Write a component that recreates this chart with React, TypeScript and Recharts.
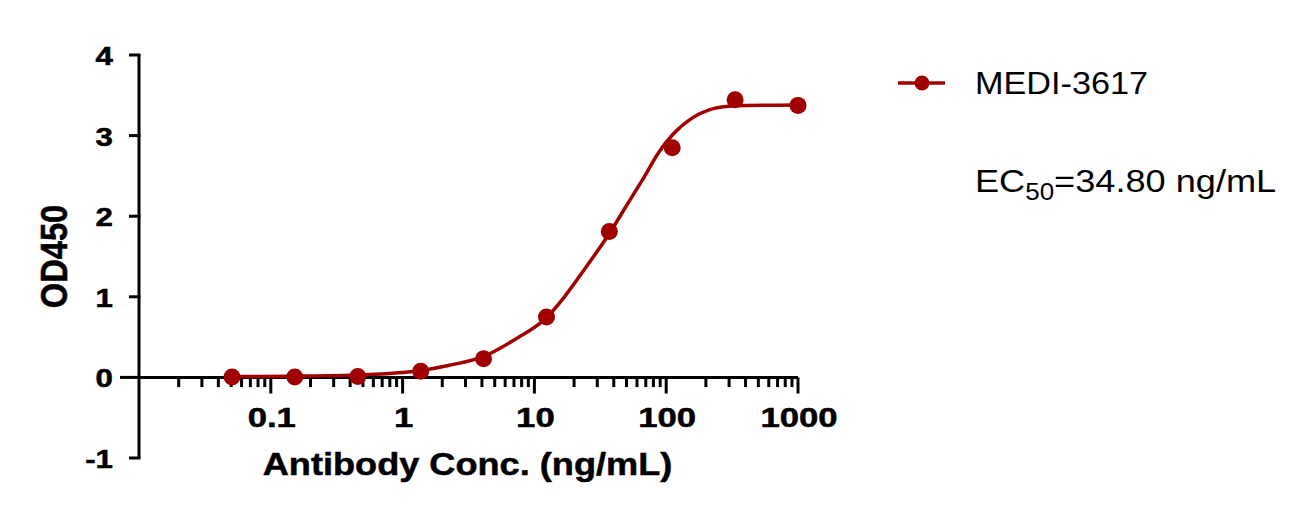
import React from 'react';
import { ComposedChart, Line, Scatter, XAxis, YAxis, ReferenceLine, Legend } from 'recharts';

// Measured points (3-fold dilution series, ng/mL) and OD450
const concentrations = [0.0508, 0.152, 0.457, 1.372, 4.115, 12.35, 37.04, 111.1, 333.3, 1000];
const od450 = [0.005, 0.005, 0.01, 0.075, 0.23, 0.75, 1.81, 2.85, 3.445, 3.375];

// Fitted curve
const fitConc = [0.0508, 0.152, 0.457, 1.0, 1.372, 2.27, 4.115, 7.26, 12.35, 16.9, 24.7, 37.04, 49.5, 66, 88.5, 111.7, 158, 212, 333, 1000];
const fitOD = [0.01, 0.015, 0.03, 0.06, 0.085, 0.15, 0.26, 0.48, 0.74, 1.0, 1.37, 1.785, 2.12, 2.45, 2.80, 3.01, 3.22, 3.32, 3.37, 3.38];

const yTicks = [-1, 0, 1, 2, 3, 4];
const majorXTicks = [0.1, 1, 10, 100, 1000];
const majorXLabels = ['0.1', '1', '10', '100', '1000'];
const minorXTicks = [
  0.02, 0.03, 0.04, 0.05, 0.06, 0.07, 0.08, 0.09,
  0.2, 0.3, 0.4, 0.5, 0.6, 0.7, 0.8, 0.9,
  2, 3, 4, 5, 6, 7, 8, 9,
  20, 30, 40, 50, 60, 70, 80, 90,
  200, 300, 400, 500, 600, 700, 800, 900,
];

const seriesName = 'MEDI-3617';
const ec50Value = '34.80';
const ec50Unit = 'ng/mL';
const xTitle = 'Antibody Conc. (ng/mL)';
const yTitle = 'OD450';

const RED = '#a10000';
const FONT = '"Liberation Sans", Arial, Helvetica, sans-serif';

const pointRows = concentrations.map((x, i) => ({ x, y: od450[i] }));
const fitRows = fitConc.map((x, i) => ({ x, y: fitOD[i] }));

const YTick = (props: any) => {
  const { x, y, payload } = props;
  const len = payload.value === 0 ? 19 : 10;
  return (
    <g>
      <line x1={x - len} x2={x + 1.5} y1={y} y2={y} stroke="#000" strokeWidth={3} />
      <g transform={`translate(${x - 26},${y + 10}) scale(1.25,1)`}>
        <text textAnchor="end" fontFamily={FONT} fontWeight={700} fontSize={25} fill="#000" stroke="#000" strokeWidth={0.5}>
          {payload.value}
        </text>
      </g>
    </g>
  );
};

const makeXLabel = (text: string) => (props: any) => {
  const vb = props.viewBox || {};
  const cx = (vb.x ?? 0) + (vb.width ?? 0) / 2;
  const top = vb.y ?? 0;
  return (
    <g transform={`translate(${cx + 1},${top + 50}) scale(1.24,1)`}>
      <text textAnchor="middle" fontFamily={FONT} fontWeight={700} fontSize={28} fill="#000" stroke="#000" strokeWidth={0.5}>
        {text}
      </text>
    </g>
  );
};

const XTitle = (props: any) => {
  const vb = props.viewBox || {};
  const cx = (vb.x ?? 0) + (vb.width ?? 0) / 2;
  return (
    <g transform={`translate(${cx - 1},${(vb.y ?? 0) + 17}) scale(1.13,1)`}>
      <text textAnchor="middle" fontFamily={FONT} fontWeight={700} fontSize={32} fill="#000" stroke="#000" strokeWidth={0.5}>
        {xTitle}
      </text>
    </g>
  );
};

const YTitle = (props: any) => {
  const vb = props.viewBox || {};
  const cy = (vb.y ?? 0) + (vb.height ?? 0) / 2;
  return (
    <g transform={`translate(${(vb.x ?? 0) + 67},${cy}) rotate(-90) scale(1.02,1.15)`}>
      <text textAnchor="middle" fontFamily={FONT} fontWeight={700} fontSize={32} fill="#000" stroke="#000" strokeWidth={0.5}>
        {yTitle}
      </text>
    </g>
  );
};

const LegendContent = () => (
  <svg width={419} height={170} style={{ display: 'block', overflow: 'visible' }}>
    <line x1={8} x2={55} y1={33} y2={33} stroke={RED} strokeWidth={3.5} />
    <circle cx={32} cy={33} r={7.5} fill={RED} />
    <g transform={`translate(85,44) scale(1.07,1)`}>
      <text fontFamily={FONT} fontSize={32} fill="#000">{seriesName}</text>
    </g>
    <g transform={`translate(85,142) scale(1.13,1)`}>
      <text fontFamily={FONT} fontSize={32} fill="#000">
        <tspan>EC</tspan>
        <tspan fontSize={23} dy={8}>50</tspan>
        <tspan dy={-8}>{`=${ec50Value} ${ec50Unit}`}</tspan>
      </text>
    </g>
  </svg>
);

function XTitleWrapper(props: any) {
  return <XTitle {...props} />;
}
function YTitleWrapper(props: any) {
  return <YTitle {...props} />;
}

export default function App() {
  return (
    <div style={{ position: 'absolute', left: 0, top: 0, width: 1309, height: 512, background: '#fff' }}>
      <ComposedChart
        width={1309}
        height={512}
        margin={{ top: 55, right: 511, bottom: 0, left: 0 }}
        style={{ fontFamily: FONT }}
      >
        <XAxis
          type="number"
          dataKey="x"
          scale="log"
          domain={[0.01, 1000]}
          ticks={majorXTicks}
          tick={false}
          tickLine={false}
          axisLine={false}
          height={54}
          label={<XTitleWrapper />}
        />
        <YAxis
          type="number"
          dataKey="y"
          domain={[-1, 4]}
          ticks={yTicks}
          width={139}
          tickSize={0}
          tickMargin={0}
          tickLine={false}
          axisLine={{ stroke: '#000', strokeWidth: 3 }}
          tick={<YTick />}
          label={<YTitleWrapper />}
        />
        <ReferenceLine y={0} stroke="#000" strokeWidth={3} />
        {minorXTicks.map((v) => (
          <ReferenceLine
            key={`m${v}`}
            segment={[{ x: v, y: 0 }, { x: v, y: -0.12 }]}
            stroke="#000"
            strokeWidth={3}
          />
        ))}
        {majorXTicks.map((v, i) => (
          <ReferenceLine
            key={`M${v}`}
            segment={[{ x: v, y: 0 }, { x: v, y: -0.2 }]}
            stroke="#000"
            strokeWidth={3}
            label={makeXLabel(majorXLabels[i])}
          />
        ))}
        <Line
          data={fitRows}
          dataKey="y"
          type="monotone"
          stroke={RED}
          strokeWidth={3.5}
          dot={false}
          activeDot={false}
          isAnimationActive={false}
          legendType="none"
          name={seriesName}
        />
        <Scatter
          data={pointRows}
          dataKey="y"
          fill={RED}
          isAnimationActive={false}
          name={seriesName}
          shape={(p: any) => <circle cx={p.cx} cy={p.cy} r={8.5} fill={RED} />}
        />
        <Legend
          layout="vertical"
          align="center"
          verticalAlign="middle"
          content={<LegendContent />}
          wrapperStyle={{ position: 'absolute', left: 890, top: 50, width: 419, height: 170 }}
        />
      </ComposedChart>
    </div>
  );
}
